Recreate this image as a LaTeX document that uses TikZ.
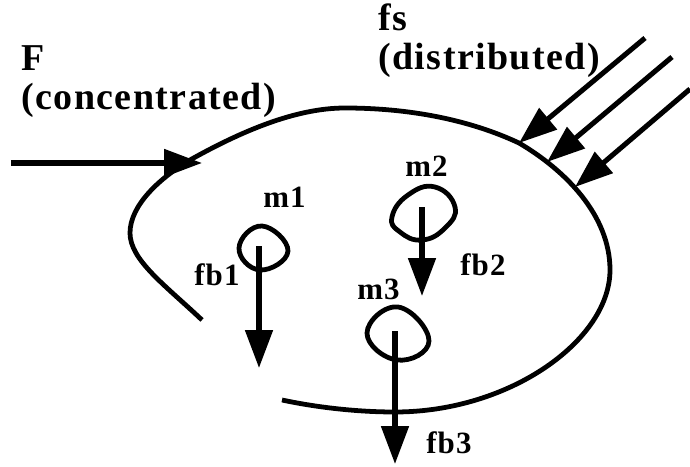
\documentclass[tikz,border=0pt]{standalone}
\usepackage{fontspec}
\setmainfont{Liberation Serif}[LetterSpace=3.8]
\usetikzlibrary{arrows.meta}
\tikzset{
  bodyline/.style={line width=3.4pt, line cap=butt},
  forcearrow/.style={-{Triangle[length=9.5mm,width=6.75mm]}, line width=3.6pt},
  biglabel/.style={anchor=base west, inner sep=0pt, align=left, font=\fontsize{27}{27.6}\selectfont\bfseries},
  smalllabel/.style={anchor=base west, inner sep=0pt, font=\fontsize{22}{24}\selectfont\bfseries}
}
\begin{document}
\begin{tikzpicture}
  \useasboundingbox (0,0) rectangle (17.25,11.65);

  % Body outline, open at the lower left
  \draw[bodyline] (5.05,3.65) .. controls (4.125,4.525) and (3.25,5.15) .. (3.25,5.825)
    .. controls (3.25,6.525) and (4,7.2) .. (4.75,7.65)
    .. controls (6,8.35) and (7.375,8.95) .. (8.625,8.95)
    .. controls (10.25,8.95) and (11.75,8.65) .. (12.975,8.075)
    .. controls (14.125,7.4) and (15.25,6.275) .. (15.25,4.9)
    .. controls (15.25,3.15) and (12.75,1.35) .. (9.875,1.35)
    .. controls (8.875,1.35) and (7.875,1.475) .. (7.05,1.65);

  % Particles
  \draw[bodyline] plot[smooth cycle, tension=0.8] coordinates {(5.975,5.45) (6.55,6) (7.2,5.375) (6.5,4.9)};
  \draw[bodyline] plot[smooth cycle, tension=0.8] coordinates {(9.8,6.225) (10.2,6.775) (10.875,6.975) (11.375,6.475) (11.125,5.95) (10.55,5.65) (10,5.85)};
  \draw[bodyline] plot[smooth cycle, tension=0.8] coordinates {(9.175,3.325) (9.95,3.975) (10.725,3.125) (9.925,2.65)};

  % Arrow ends
  \coordinate (Fstart) at (0.275,7.575);
  \coordinate (Ftip) at (5.05,7.575);
  \coordinate (fsastart) at (16.125,10.7);
  \coordinate (fsatip) at (12.975,8.075);
  \coordinate (fsbstart) at (16.8,10.225);
  \coordinate (fsbtip) at (13.675,7.6);
  \coordinate (fscstart) at (17.25,9.425);
  \coordinate (fsctip) at (14.375,6.975);
  \coordinate (fbastart) at (6.475,5.5);
  \coordinate (fbatip) at (6.475,2.45);
  \coordinate (fbbstart) at (10.55,6.475);
  \coordinate (fbbtip) at (10.55,4.25);
  \coordinate (fbcstart) at (9.875,3.375);
  \coordinate (fbctip) at (9.875,0.05);

  % Forces
  \draw[forcearrow] (Fstart) -- (Ftip);
  \draw[forcearrow] (fsastart) -- (fsatip);
  \draw[forcearrow] (fsbstart) -- (fsbtip);
  \draw[forcearrow] (fscstart) -- (fsctip);
  \draw[forcearrow] (fbastart) -- (fbatip);
  \draw[forcearrow] (fbbstart) -- (fbbtip);
  \draw[forcearrow] (fbcstart) -- (fbctip);

  % Labels
  \node[biglabel] (Flabel) at (0.525,8.925) {F\\(concentrated)};
  \node[biglabel] (fslabel) at (9.45,9.925) {fs\\(distributed)};
  \node[smalllabel] (mone) at (6.575,6.475) {m1};
  \node[smalllabel] (mtwo) at (10.125,7.25) {m2};
  \node[smalllabel] (mthree) at (8.925,4.175) {m3};
  \node[smalllabel] (fbone) at (4.85,4.525) {fb1};
  \node[smalllabel] (fbtwo) at (11.5,4.775) {fb2};
  \node[smalllabel] (fbthree) at (10.65,0.325) {fb3};
\end{tikzpicture}
\end{document}
